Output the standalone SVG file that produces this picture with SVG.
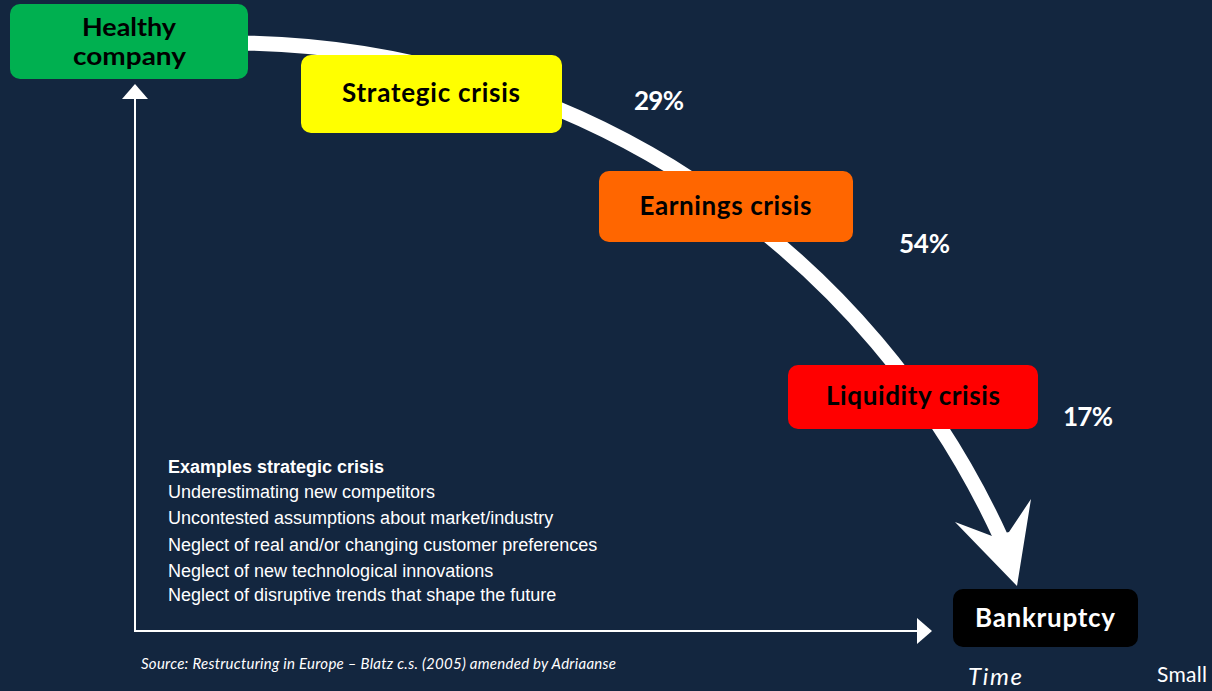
<svg xmlns="http://www.w3.org/2000/svg" width="1212" height="691" viewBox="0 0 1212 691">
<defs>
<style>
.bg{fill:#13263F}
.flow{fill:none;stroke:#FFFFFF;stroke-width:15}
.axis{fill:none;stroke:#FFFFFF;stroke-width:2}
.head{fill:#FFFFFF}
.bt{font-family:Lato,"Open Sans",sans-serif;font-weight:700;font-size:26px;text-anchor:middle;fill:#000000}
.bt2{font-size:24px}
.bw{fill:#FFFFFF}
.pct{font-family:Lato,"Open Sans",sans-serif;font-weight:700;font-size:26px;fill:#FFFFFF}
.ex{font-family:"Liberation Sans",Arial,sans-serif;font-size:18px;fill:#FFFFFF}
.exb{font-weight:700}
.src{font-family:Lato,"Open Sans",sans-serif;font-style:italic;font-size:15px;fill:#FFFFFF}
.time{font-family:Lato,"Open Sans",sans-serif;font-style:italic;font-size:24px;fill:#FFFFFF}
.small{font-family:Lato,"Open Sans",sans-serif;font-size:21px;fill:#FFFFFF}
</style>
<marker id="tri" markerUnits="userSpaceOnUse" viewBox="0 0 15 26" refX="0" refY="13" markerWidth="15" markerHeight="26" orient="auto-start-reverse">
<path d="M0,0 L15,13 L0,26 Z" fill="#FFFFFF"/>
</marker>
</defs>
<rect class="bg" x="0" y="0" width="1212" height="691"/>

<g id="connectors">
<path id="crisis-curve" class="flow" d="M240,43 A848,848 0 0 1 1002,540"/>
<polygon class="head" points="992,536 955,522 1017,586 1031,499 1009,532"/>
<path id="axes" class="axis" d="M135,99 L135,631 L917,631" marker-start="url(#tri)" marker-end="url(#tri)"/>
</g>

<g id="healthy">
<rect x="10" y="4" width="238" height="75" rx="10" fill="#00B050"/>
<text class="bt bt2" x="129" y="36" textLength="94" lengthAdjust="spacingAndGlyphs">Healthy</text>
<text class="bt bt2" x="129.5" y="65" textLength="113" lengthAdjust="spacingAndGlyphs">company</text>
</g>

<g id="strategic">
<rect x="301" y="55" width="261" height="78" rx="10" fill="#FFFF00"/>
<text class="bt" x="431" y="102" textLength="178">Strategic crisis</text>
</g>

<g id="earnings">
<rect x="599" y="171" width="254" height="71" rx="10" fill="#FF6600"/>
<text class="bt" x="725.5" y="215" textLength="172">Earnings crisis</text>
</g>

<g id="liquidity">
<rect x="788" y="365" width="250" height="64" rx="10" fill="#FF0000"/>
<text class="bt" x="913" y="405" textLength="174">Liquidity crisis</text>
</g>

<g id="bankruptcy">
<rect x="953" y="589" width="185" height="58" rx="10" fill="#000000"/>
<text class="bt bw" x="1045" y="627" textLength="140">Bankruptcy</text>
</g>

<g id="percentages">
<text class="pct" x="634" y="110" textLength="50">29%</text>
<text class="pct" x="899" y="253" textLength="51">54%</text>
<text class="pct" x="1063" y="426" textLength="50">17%</text>
</g>

<g id="examples">
<text class="ex exb" x="168" y="473">Examples strategic crisis</text>
<text class="ex" x="168" y="498">Underestimating new competitors</text>
<text class="ex" x="168" y="524">Uncontested assumptions about market/industry</text>
<text class="ex" x="168" y="551">Neglect of real and/or changing customer preferences</text>
<text class="ex" x="168" y="577">Neglect of new technological innovations</text>
<text class="ex" x="168" y="601">Neglect of disruptive trends that shape the future</text>
</g>

<g id="labels">
<text class="src" x="141" y="669" textLength="475">Source: Restructuring in Europe – Blatz c.s. (2005) amended by Adriaanse</text>
<text class="time" x="968" y="685" textLength="54">Time</text>
<text class="small" x="1157" y="682" textLength="50">Small</text>
</g>
</svg>
